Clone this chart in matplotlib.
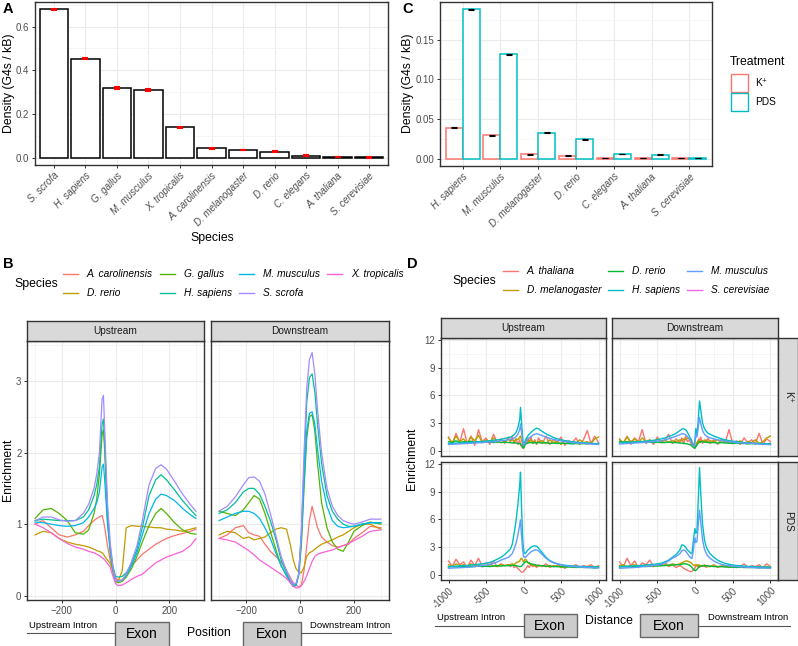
import numpy as np
import matplotlib.pyplot as plt
from matplotlib.patches import Rectangle
from matplotlib.lines import Line2D

plt.rcParams['font.family'] = ['Liberation Sans', 'DejaVu Sans']

W, H = 798, 646

# ---------------- panel A: G4 density per species
species_a = ['S. scrofa', 'H. sapiens', 'G. gallus', 'M. musculus', 'X. tropicalis',
             'A. carolinensis', 'D. melanogaster', 'D. rerio', 'C. elegans',
             'A. thaliana', 'S. cerevisiae']
density_a = [0.679, 0.454, 0.318, 0.310, 0.138, 0.042, 0.035, 0.026, 0.009, 0.003, 0.0005]
err_a = [0.004, 0.003, 0.004, 0.003, 0.003, 0.002, 0.002, 0.002, 0.002, 0.001, 0.001]

# ---------------- panel C: density by treatment
species_c = ['H. sapiens', 'M. musculus', 'D. melanogaster', 'D. rerio',
             'C. elegans', 'A. thaliana', 'S. cerevisiae']
density_k = [0.0388, 0.0293, 0.0054, 0.0038, 0.0009, 0.0008, 0.0002]
density_pds = [0.1885, 0.1314, 0.0326, 0.0243, 0.0054, 0.0050, 0.0002]
err_k = [0.0004, 0.0004, 0.0003, 0.0003, 0.0002, 0.0002, 0.0001]
err_pds = [0.0006, 0.0005, 0.0004, 0.0003, 0.0002, 0.0002, 0.0001]
treatments = ['K\u207a', 'PDS']
treat_colors = ['#F8766D', '#00BFC4']

# ---------------- panel B: enrichment around exons
species_b = ['A. carolinensis', 'D. rerio', 'G. gallus', 'H. sapiens',
             'M. musculus', 'S. scrofa', 'X. tropicalis']
colors_b = ['#F8766D', '#C49A00', '#53B400', '#00C094', '#00B6EB', '#A58AFF', '#FB61D7']

pos_up = [-300, -270, -240, -210, -180, -150, -120, -100, -80, -70, -60, -50, -45, -40,
          -30, -20, -10, 0, 10, 25, 40, 60, 80, 100, 125, 150, 170, 190, 220, 250, 280, 300]
up_acar = [1.0, 1.05, 0.95, 0.85, 0.82, 0.85, 0.9, 0.98, 1.05, 1.08, 1.1, 1.12, 1.05, 0.95,
           0.7, 0.5, 0.35, 0.25, 0.22, 0.22, 0.3, 0.42, 0.5, 0.58, 0.65, 0.72, 0.76, 0.8,
           0.84, 0.87, 0.9, 0.93]
up_drer = [0.85, 0.9, 0.88, 0.8, 0.75, 0.72, 0.7, 0.68, 0.65, 0.63, 0.62, 0.6, 0.58, 0.55,
           0.5, 0.45, 0.35, 0.22, 0.2, 0.35, 0.95, 0.98, 0.97, 0.97, 0.96, 0.95, 0.95, 0.93,
           0.92, 0.9, 0.93, 0.95]
up_ggal = [1.08, 1.2, 1.22, 1.15, 1.05, 0.88, 0.86, 0.92, 1.15, 1.35, 1.7, 2.25, 2.32, 2.0,
           1.1, 0.6, 0.35, 0.2, 0.18, 0.2, 0.26, 0.38, 0.55, 0.75, 0.98, 1.15, 1.22, 1.15,
           1.02, 0.92, 0.87, 0.86]
up_hsap = [1.05, 1.07, 1.06, 1.05, 1.05, 1.05, 1.1, 1.2, 1.4, 1.55, 1.8, 2.4, 2.47, 2.1,
           1.2, 0.7, 0.42, 0.27, 0.26, 0.27, 0.32, 0.45, 0.65, 0.95, 1.4, 1.62, 1.69, 1.62,
           1.48, 1.33, 1.2, 1.12]
up_mmus = [1.03, 1.02, 1.0, 0.98, 0.97, 0.98, 1.02, 1.1, 1.22, 1.3, 1.45, 1.8, 1.84, 1.6,
           1.0, 0.65, 0.38, 0.22, 0.2, 0.22, 0.28, 0.42, 0.6, 0.85, 1.15, 1.35, 1.42, 1.4,
           1.33, 1.22, 1.13, 1.08]
up_sscr = [1.05, 1.1, 1.1, 1.06, 1.04, 1.05, 1.15, 1.28, 1.5, 1.7, 2.0, 2.75, 2.8, 2.3,
           1.3, 0.75, 0.4, 0.22, 0.2, 0.22, 0.3, 0.48, 0.7, 1.05, 1.55, 1.78, 1.83, 1.77,
           1.6, 1.42, 1.27, 1.18]
up_xtro = [1.0, 0.95, 0.88, 0.8, 0.73, 0.68, 0.65, 0.62, 0.6, 0.58, 0.56, 0.53, 0.52, 0.5,
           0.45, 0.4, 0.28, 0.17, 0.14, 0.15, 0.18, 0.23, 0.27, 0.3, 0.38, 0.46, 0.5, 0.54,
           0.58, 0.62, 0.7, 0.8]

pos_dn = [-300, -270, -240, -210, -190, -170, -150, -130, -110, -90, -70, -50, -35, -25,
          -15, -5, 5, 15, 25, 35, 45, 55, 65, 80, 100, 120, 140, 160, 180, 200, 230, 260, 300]
dn_acar = [0.8, 0.85, 0.95, 0.98, 0.88, 0.85, 0.83, 0.72, 0.62, 0.55, 0.47, 0.35, 0.25, 0.18,
           0.15, 0.12, 0.15, 0.35, 0.7, 1.05, 1.25, 1.1, 0.95, 0.82, 0.75, 0.7, 0.68, 0.7,
           0.72, 0.8, 0.88, 0.97, 0.95]
dn_drer = [0.85, 0.9, 0.88, 0.8, 0.82, 0.78, 0.8, 0.82, 0.88, 0.93, 0.95, 0.93, 0.7, 0.5,
           0.38, 0.33, 0.32, 0.4, 0.55, 0.6, 0.62, 0.65, 0.68, 0.72, 0.75, 0.78, 0.82, 0.85,
           0.9, 0.95, 1.0, 1.0, 0.93]
dn_ggal = [1.18, 1.15, 1.12, 1.2, 1.3, 1.4, 1.35, 1.15, 0.9, 0.65, 0.42, 0.28, 0.18, 0.13,
           0.15, 0.28, 0.7, 1.5, 2.2, 2.5, 2.53, 2.3, 1.85, 1.3, 0.95, 0.75, 0.65, 0.62,
           0.75, 0.9, 0.98, 1.03, 1.0]
dn_hsap = [1.15, 1.2, 1.3, 1.45, 1.5, 1.5, 1.42, 1.25, 1.05, 0.8, 0.5, 0.32, 0.2, 0.15,
           0.15, 0.3, 0.85, 1.8, 2.7, 3.05, 3.1, 2.85, 2.4, 1.85, 1.4, 1.18, 1.07, 1.0,
           0.97, 0.97, 1.0, 1.02, 1.02]
dn_mmus = [1.05, 1.1, 1.15, 1.18, 1.18, 1.15, 1.08, 0.95, 0.8, 0.6, 0.42, 0.28, 0.18, 0.13,
           0.14, 0.3, 0.8, 1.6, 2.3, 2.55, 2.57, 2.4, 2.05, 1.6, 1.25, 1.05, 0.97, 0.95,
           0.96, 0.97, 1.0, 1.02, 1.02]
dn_sscr = [1.18, 1.25, 1.38, 1.55, 1.65, 1.66, 1.6, 1.42, 1.15, 0.85, 0.55, 0.35, 0.22, 0.17,
           0.17, 0.3, 0.9, 2.0, 2.9, 3.3, 3.4, 3.1, 2.6, 2.0, 1.5, 1.25, 1.12, 1.05,
           1.02, 1.0, 1.03, 1.07, 1.07]
dn_xtro = [0.8, 0.78, 0.75, 0.68, 0.63, 0.57, 0.5, 0.45, 0.4, 0.35, 0.3, 0.24, 0.18, 0.13,
           0.11, 0.11, 0.14, 0.2, 0.28, 0.38, 0.48, 0.55, 0.58, 0.6, 0.62, 0.64, 0.67, 0.7,
           0.73, 0.77, 0.83, 0.9, 0.92]

b_up = [up_acar, up_drer, up_ggal, up_hsap, up_mmus, up_sscr, up_xtro]
b_dn = [dn_acar, dn_drer, dn_ggal, dn_hsap, dn_mmus, dn_sscr, dn_xtro]

# ---------------- panel D: enrichment by treatment
species_d = ['A. thaliana', 'D. melanogaster', 'D. rerio', 'H. sapiens',
             'M. musculus', 'S. cerevisiae']
colors_d = ['#F8766D', '#B79F00', '#00BA38', '#00BFC4', '#619CFF', '#F564E3']

pos_d = [-1000, -950, -900, -850, -800, -750, -700, -650, -600, -550, -500, -450, -400,
         -350, -300, -250, -200,
         -175, -150, -125, -100, -75, -50, -40, -25, -10, 0, 10, 25, 40, 50, 60, 75, 100,
         125, 150, 175, 200,
         250, 300, 350, 400, 450, 500, 550, 600, 650, 700, 750, 800, 850, 900, 950, 1000]

# K+ upstream
ku_atha = [1.5, 0.7, 1.9, 0.9, 2.4, 0.8, 1.6, 0.6, 2.3, 1.0, 1.4, 0.7, 1.8, 0.9, 1.3, 0.8, 1.5,
           0.9, 1.6, 0.8, 1.3, 0.7, 1.2, 0.6, 0.5, 0.3, 0.4, 0.6, 0.9, 1.3, 0.8, 1.4, 0.9, 1.5,
           0.8, 1.2, 0.7, 1.4,
           0.8, 1.6, 0.7, 1.2, 0.9, 1.5, 0.6, 1.1, 0.9, 1.4, 0.7, 1.2, 2.2, 0.8, 1.6, 0.9]
ku_dmel = [1.4, 0.9, 1.6, 1.0, 1.3, 0.8, 1.5, 1.1, 1.7, 0.9, 1.2, 1.0, 1.4, 0.9, 1.2, 1.0, 1.3,
           1.1, 1.2, 1.0, 1.3, 1.2, 1.5, 1.6, 1.2, 0.5, 0.3, 0.6, 1.0, 1.2, 1.1, 1.3, 1.0, 1.2,
           0.9, 1.1, 0.8, 1.0,
           1.1, 0.8, 1.2, 0.9, 1.0, 0.7, 1.1, 0.9, 1.0, 0.8, 1.2, 0.9, 1.0, 0.8, 1.3, 1.5]
ku_drer = [1.0, 0.9, 1.1, 0.9, 1.0, 0.95, 1.05, 0.9, 1.0, 0.9, 1.0, 0.95, 0.9, 1.0, 0.9, 0.95,
           0.9,
           0.9, 0.85, 0.9, 0.85, 0.8, 0.8, 0.75, 0.6, 0.4, 0.3, 0.5, 0.7, 0.8, 0.85, 0.85, 0.9,
           0.9, 0.85, 0.9, 0.85, 0.9,
           0.85, 0.9, 0.8, 0.85, 0.8, 0.85, 0.8, 0.8, 0.75, 0.8, 0.75, 0.8, 0.75, 0.8, 0.75, 0.8]
ku_hsap = [0.8, 0.82, 0.85, 0.85, 0.88, 0.9, 0.92, 0.95, 1.0, 1.02, 1.05, 1.1, 1.15, 1.2, 1.25,
           1.35, 1.45,
           1.5, 1.6, 1.75, 2.0, 2.5, 3.4, 4.7, 3.0, 1.3, 0.6, 0.8, 1.1, 1.4, 1.5, 1.65, 1.8,
           2.0, 2.2, 2.35, 2.45, 2.4,
           2.1, 1.85, 1.65, 1.45, 1.3, 1.2, 1.12, 1.05, 1.0, 0.95, 0.9, 0.87, 0.85, 0.82, 0.8,
           0.78]
ku_mmus = [0.7, 0.72, 0.74, 0.75, 0.78, 0.8, 0.82, 0.85, 0.88, 0.9, 0.93, 0.97, 1.0, 1.05, 1.1,
           1.15, 1.2,
           1.25, 1.3, 1.4, 1.55, 1.8, 2.3, 2.9, 2.0, 1.0, 0.6, 0.7, 0.9, 1.1, 1.2, 1.3, 1.4,
           1.55, 1.7, 1.8, 1.85, 1.8,
           1.65, 1.5, 1.35, 1.25, 1.15, 1.08, 1.0, 0.95, 0.9, 0.85, 0.82, 0.8, 0.78, 0.75, 0.72,
           0.7]

# K+ downstream
kd_atha = [1.3, 0.8, 1.6, 0.7, 1.4, 1.0, 2.3, 0.8, 1.2, 0.7, 1.5, 0.9, 1.1, 1.8, 0.8, 1.3, 0.9,
           1.4, 0.8, 1.6, 1.0, 1.2, 0.7, 0.9, 0.5, 0.4, 0.3, 0.5, 0.8, 1.0, 1.3, 0.9, 1.5, 0.8,
           1.2, 0.9, 1.4, 0.8,
           1.2, 0.7, 1.3, 0.9, 2.3, 0.8, 1.1, 0.7, 1.4, 0.9, 1.2, 0.8, 1.9, 0.7, 1.3, 1.0]
kd_dmel = [1.2, 0.9, 1.5, 1.0, 1.3, 0.9, 1.4, 1.0, 1.2, 0.9, 1.3, 1.0, 1.2, 0.9, 1.1, 1.0, 1.2,
           1.1, 1.3, 1.2, 1.4, 1.3, 1.2, 1.0, 0.8, 0.5, 0.4, 0.6, 0.9, 1.1, 1.0, 1.2, 0.9, 1.1,
           1.0, 1.2, 0.9, 1.1,
           1.0, 1.2, 0.9, 1.1, 0.8, 1.0, 0.9, 1.1, 0.8, 1.0, 0.9, 1.2, 0.8, 1.0, 1.4, 1.6]
kd_drer = [1.0, 0.95, 1.0, 0.9, 1.0, 0.95, 1.0, 0.9, 0.95, 0.9, 0.95, 0.9, 0.9, 0.95, 0.9, 0.9,
           0.85,
           0.85, 0.8, 0.8, 0.75, 0.7, 0.6, 0.5, 0.4, 0.3, 0.3, 0.45, 0.6, 0.8, 0.9, 0.95, 1.0,
           1.0, 0.95, 0.95, 0.9, 0.9,
           0.9, 0.85, 0.9, 0.85, 0.85, 0.8, 0.85, 0.8, 0.8, 0.75, 0.8, 0.75, 0.8, 0.75, 0.75, 0.8]
kd_hsap = [0.85, 0.87, 0.9, 0.92, 0.95, 1.0, 1.02, 1.05, 1.1, 1.15, 1.2, 1.3, 1.4, 1.55, 1.7,
           1.9, 2.2,
           2.35, 2.4, 2.3, 2.0, 1.6, 1.2, 0.9, 0.6, 0.5, 1.2, 2.4, 1.8, 3.0, 4.2, 5.4, 4.5,
           3.0, 2.4, 2.1, 1.9, 1.8,
           1.6, 1.45, 1.3, 1.2, 1.12, 1.05, 1.0, 0.95, 0.9, 0.87, 0.85, 0.82, 0.8, 0.78, 0.75,
           0.72]
kd_mmus = [0.75, 0.77, 0.8, 0.82, 0.85, 0.88, 0.9, 0.93, 0.97, 1.0, 1.05, 1.1, 1.2, 1.3, 1.45,
           1.6, 1.75,
           1.85, 1.85, 1.75, 1.55, 1.3, 1.0, 0.8, 0.6, 0.5, 0.9, 1.8, 1.5, 2.3, 3.0, 3.6, 3.0,
           2.2, 1.8, 1.6, 1.5, 1.4,
           1.3, 1.2, 1.12, 1.05, 1.0, 0.95, 0.9, 0.87, 0.85, 0.82, 0.8, 0.78, 0.75, 0.72, 0.7,
           0.68]

# PDS upstream
pu_atha = [1.5, 0.9, 1.7, 1.1, 1.4, 0.8, 1.6, 1.0, 1.8, 0.9, 1.3, 1.1, 1.5, 0.9, 1.2, 1.0, 1.1,
           0.9, 1.1, 0.8, 0.9, 0.7, 0.5, 0.4, 0.3, 0.3, 0.35, 0.5, 0.6, 0.8, 0.9, 1.0, 0.8,
           1.1, 0.9, 1.0, 0.8, 1.1,
           0.9, 1.2, 0.8, 1.0, 0.9, 1.1, 0.7, 1.0, 0.9, 1.1, 0.8, 1.0, 0.9, 1.1, 0.8, 1.0]
pu_dmel = [1.1, 0.9, 1.2, 1.0, 1.1, 0.9, 1.2, 1.0, 1.1, 0.9, 1.0, 1.1, 1.0, 0.9, 1.1, 1.0, 1.1,
           1.1, 1.2, 1.1, 1.3, 1.4, 1.5, 1.7, 1.8, 1.6, 1.4, 1.5, 1.7, 1.6, 1.4, 1.3, 1.2, 1.1,
           1.0, 1.1, 0.9, 1.0,
           1.0, 0.9, 1.0, 0.9, 1.0, 0.8, 0.9, 1.0, 0.8, 0.9, 0.8, 0.9, 0.8, 0.9, 0.8, 0.9]
pu_drer = [0.85, 0.9, 0.85, 0.9, 0.9, 0.85, 0.9, 0.9, 0.95, 0.9, 0.95, 0.9, 0.95, 1.0, 0.95,
           1.0, 1.0,
           1.0, 1.05, 1.0, 1.0, 0.95, 0.9, 0.9, 0.95, 1.1, 1.2, 1.3, 1.4, 1.45, 1.4, 1.35, 1.3,
           1.2, 1.15, 1.1, 1.05, 1.0,
           1.0, 0.95, 0.95, 0.9, 0.9, 0.9, 0.85, 0.85, 0.85, 0.8, 0.85, 0.8, 0.8, 0.8, 0.75, 0.8]
pu_hsap = [0.9, 0.92, 0.95, 0.97, 1.0, 1.02, 1.05, 1.1, 1.15, 1.2, 1.26, 1.35, 1.5, 1.7, 1.9,
           2.2, 2.6,
           2.8, 3.3, 4.5, 5.8, 7.6, 9.8, 11.1, 7.0, 3.8, 2.8, 2.4, 2.3, 2.5, 2.6, 2.7, 2.8,
           3.0, 3.1, 3.15, 3.1, 2.9,
           2.4, 1.9, 1.55, 1.35, 1.2, 1.1, 1.05, 1.0, 0.97, 0.95, 0.92, 0.9, 0.88, 0.87, 0.86,
           0.85]
pu_mmus = [0.72, 0.74, 0.76, 0.78, 0.8, 0.83, 0.86, 0.9, 0.95, 1.0, 1.05, 1.12, 1.25, 1.4, 1.6,
           1.75, 1.9,
           2.1, 2.3, 2.8, 3.4, 4.3, 5.4, 5.95, 4.1, 2.6, 2.0, 1.9, 1.9, 2.0, 2.1, 2.2, 2.3,
           2.5, 2.6, 2.7, 2.7, 2.6,
           2.2, 1.8, 1.5, 1.3, 1.2, 1.1, 1.0, 0.95, 0.9, 0.87, 0.85, 0.82, 0.8, 0.78, 0.76, 0.75]

# PDS downstream
pd_atha = [1.4, 0.9, 1.8, 1.0, 1.5, 0.8, 1.3, 1.1, 1.6, 0.9, 1.2, 1.0, 1.4, 0.9, 1.1, 0.8, 1.0,
           0.9, 0.7, 0.6, 0.5, 0.4, 0.35, 0.4, 0.5, 0.6, 0.8, 0.9, 1.0, 0.9, 1.1, 0.8, 1.0,
           0.9, 1.1, 0.8, 1.0, 0.9,
           1.1, 0.8, 1.0, 0.9, 1.1, 0.8, 1.0, 0.9, 1.2, 0.8, 1.0, 0.9, 1.1, 0.8, 1.2, 0.9]
pd_dmel = [1.0, 1.1, 0.9, 1.0, 1.1, 0.9, 1.0, 1.1, 1.0, 0.9, 1.1, 1.0, 1.1, 1.0, 1.2, 1.1, 1.2,
           1.3, 1.4, 1.5, 1.5, 1.4, 1.3, 1.2, 1.1, 1.0, 1.1, 1.0, 1.1, 1.0, 1.1, 0.9, 1.0,
           1.0, 0.9, 1.0, 0.9, 0.9,
           1.0, 0.9, 0.9, 1.0, 0.8, 0.9, 0.9, 0.8, 0.9, 0.8, 0.9, 0.8, 0.9, 0.8, 0.9, 0.8]
pd_drer = [0.85, 0.9, 0.85, 0.9, 0.9, 0.9, 0.95, 0.9, 0.95, 1.0, 0.95, 1.0, 1.0, 1.05, 1.05,
           1.1, 1.1,
           1.15, 1.2, 1.2, 1.15, 1.05, 0.9, 0.8, 0.65, 0.5, 0.45, 0.5, 0.6, 0.75, 0.85, 0.9,
           0.95, 1.0, 1.0, 1.0, 0.95, 0.95,
           0.9, 0.9, 0.9, 0.85, 0.85, 0.85, 0.8, 0.85, 0.8, 0.8, 0.8, 0.8, 0.75, 0.8, 0.75, 0.8]
pd_hsap = [0.9, 0.92, 0.94, 0.96, 0.98, 1.0, 1.03, 1.06, 1.1, 1.15, 1.2, 1.26, 1.4, 1.6, 1.9,
           2.2, 2.7,
           3.25, 3.2, 3.0, 2.7, 2.5, 2.3, 2.4, 3.4, 4.5, 5.0, 4.5, 4.6, 7.4, 9.5, 11.6, 9.0,
           5.5, 3.8, 3.0, 2.6, 2.3,
           1.9, 1.6, 1.4, 1.25, 1.15, 1.08, 1.02, 0.98, 0.95, 0.92, 0.9, 0.88, 0.87, 0.86, 0.85,
           0.85]
pd_mmus = [0.72, 0.74, 0.76, 0.78, 0.8, 0.84, 0.88, 0.92, 0.97, 1.03, 1.08, 1.12, 1.3, 1.5, 1.8,
           2.0, 2.3,
           2.6, 2.7, 2.6, 2.3, 2.0, 1.8, 1.8, 2.5, 3.5, 4.0, 3.5, 3.6, 5.0, 6.2, 7.0, 5.8,
           3.8, 2.8, 2.3, 2.0, 1.8,
           1.5, 1.3, 1.15, 1.05, 1.0, 0.95, 0.9, 0.87, 0.85, 0.82, 0.8, 0.78, 0.76, 0.75, 0.74,
           0.72]

d_ku = [ku_atha, ku_dmel, ku_drer, ku_hsap, ku_mmus]
d_kd = [kd_atha, kd_dmel, kd_drer, kd_hsap, kd_mmus]
d_pu = [pu_atha, pu_dmel, pu_drer, pu_hsap, pu_mmus]
d_pd = [pd_atha, pd_dmel, pd_drer, pd_hsap, pd_mmus]


def box(x0, y0, x1, y1):
    return [x0 / W, 1 - y1 / H, (x1 - x0) / W, (y1 - y0) / H]


def ftext(x, y, s, **kw):
    fig.text(x / W, 1 - y / H, s, **kw)


def fline(x0, x1, y, color='#555555', lw=0.8):
    fig.add_artist(Line2D([x0 / W, x1 / W], [1 - y / H, 1 - y / H],
                          transform=fig.transFigure, color=color, lw=lw))


def frect(x0, y0, x1, y1, fc, ec, lw=0.8):
    fig.add_artist(Rectangle((x0 / W, 1 - y1 / H), (x1 - x0) / W, (y1 - y0) / H,
                             transform=fig.transFigure, facecolor=fc, edgecolor=ec, lw=lw))


def theme(ax):
    for s in ax.spines.values():
        s.set_color('#333333')
        s.set_linewidth(1.0)
    ax.tick_params(which='major', length=2.5, width=0.7, color='#333333',
                   labelsize=7, labelcolor='#4D4D4D', pad=1.5)
    ax.tick_params(which='minor', length=0)
    ax.grid(which='major', color='#EBEBEB', lw=0.8)
    ax.grid(which='minor', color='#F2F2F2', lw=0.5)
    ax.set_axisbelow(True)


def strip(rect, label, rot=0):
    s = fig.add_axes(rect)
    s.set_facecolor('#D9D9D9')
    s.set_xticks([])
    s.set_yticks([])
    for sp in s.spines.values():
        sp.set_color('#333333')
        sp.set_linewidth(1.0)
    s.text(0.5, 0.5, label, ha='center', va='center', fontsize=7.3,
           color='#1A1A1A', rotation=rot, transform=s.transAxes)


fig = plt.figure(figsize=(W / 100, H / 100), dpi=100)

# ================= A
axA = fig.add_axes(box(35, 2, 388, 165))
xa = np.arange(len(species_a))
axA.bar(xa, density_a, width=0.9, facecolor='white', edgecolor='black', lw=1.1, zorder=2)
axA.errorbar(xa, density_a, yerr=err_a, fmt='none', ecolor='red', elinewidth=1.5,
             capsize=2.5, capthick=1.5, zorder=3)
axA.set_xlim(-0.6, len(species_a) - 0.4)
axA.set_ylim(-0.034, 0.713)
axA.set_yticks([0, 0.2, 0.4, 0.6])
axA.set_yticklabels(['0.0', '0.2', '0.4', '0.6'])
axA.set_yticks([0.1, 0.3, 0.5, 0.7], minor=True)
axA.set_xticks(xa)
axA.set_xticklabels(species_a, rotation=45, ha='right', rotation_mode='anchor',
                    fontstyle='italic')
theme(axA)
ftext(9, 83, 'Density (G4s / kB)', rotation=90, ha='center', va='center', fontsize=8.8)
ftext(212, 238, 'Species', ha='center', va='center', fontsize=8.8)
ftext(3, 9, 'A', ha='left', va='center', fontsize=10.5, fontweight='bold')

# ================= C
axC = fig.add_axes(box(440, 2, 712, 166))
xc = np.arange(len(species_c))
for vals, errs, col, off in [(density_k, err_k, treat_colors[0], -0.225),
                             (density_pds, err_pds, treat_colors[1], 0.225)]:
    axC.bar(xc + off, vals, width=0.45, facecolor='white', edgecolor=col, lw=1.1, zorder=2)
    axC.errorbar(xc + off, vals, yerr=errs, fmt='none', ecolor='black', elinewidth=0.8,
                 capsize=2.5, capthick=0.8, zorder=3)
axC.set_xlim(-0.6, len(species_c) - 0.4)
axC.set_ylim(-0.0094, 0.1975)
axC.set_yticks([0, 0.05, 0.10, 0.15])
axC.set_yticklabels(['0.00', '0.05', '0.10', '0.15'])
axC.set_yticks([0.025, 0.075, 0.125, 0.175], minor=True)
axC.set_xticks(xc)
axC.set_xticklabels(species_c, rotation=45, ha='right', rotation_mode='anchor',
                    fontstyle='italic')
theme(axC)
ftext(408, 83, 'Density (G4s / kB)', rotation=90, ha='center', va='center', fontsize=8.8)
ftext(402, 9, 'C', ha='left', va='center', fontsize=10.5, fontweight='bold')
ftext(730, 62, 'Treatment', ha='left', va='center', fontsize=8.8)
for i, (lab, col) in enumerate(zip(treatments, treat_colors)):
    y0 = 74 + i * 19
    frect(731, y0, 748, y0 + 18, 'white', col, lw=1.0)
    ftext(755, y0 + 9, lab, ha='left', va='center', fontsize=7.3)

# ================= B
ftext(3, 264, 'B', ha='left', va='center', fontsize=10.5, fontweight='bold')
ftext(14, 284, 'Species', ha='left', va='center', fontsize=8.8)
leg_b_keys = [63, 160, 239, 327]
for i, (sp, col) in enumerate(zip(species_b, colors_b)):
    c, r = divmod(i, 2)
    y = 274 + r * 19
    fline(leg_b_keys[c], leg_b_keys[c] + 15, y, color=col, lw=1.0)
    ftext(leg_b_keys[c] + 24, y, sp, ha='left', va='center', fontsize=7.3, fontstyle='italic')

b_axes = []
for (x0, x1), pos, curves, title in [((27, 204), pos_up, b_up, 'Upstream'),
                                     ((211, 389), pos_dn, b_dn, 'Downstream')]:
    ax = fig.add_axes(box(x0, 341, x1, 600))
    for vals, col in zip(curves, colors_b):
        ax.plot(pos, vals, color=col, lw=0.9)
    ax.set_xlim(-330, 330)
    ax.set_ylim(-0.06, 3.56)
    ax.set_xticks([-200, 0, 200])
    ax.set_xticks([-300, -100, 100, 300], minor=True)
    ax.set_yticks([0, 1, 2, 3])
    ax.set_yticks([0.5, 1.5, 2.5, 3.5], minor=True)
    theme(ax)
    strip(box(x0, 321, x1, 341), title)
    b_axes.append(ax)
b_axes[1].tick_params(axis='y', which='both', left=False, labelleft=False)
ftext(8, 470, 'Enrichment', rotation=90, ha='center', va='center', fontsize=8.8)

# exon diagram under B
ftext(29, 626, 'Upstream Intron', ha='left', va='center', fontsize=6.8)
fline(27, 115, 633)
frect(115, 622, 169, 648, '#CCCCCC', '#666666', lw=1.0)
ftext(142, 634, 'Exon', ha='center', va='center', fontsize=10)
ftext(209, 633, 'Position', ha='center', va='center', fontsize=8.8)
frect(243, 622, 301, 648, '#CCCCCC', '#666666', lw=1.0)
ftext(272, 634, 'Exon', ha='center', va='center', fontsize=10)
fline(301, 391, 633)
ftext(390, 626, 'Downstream Intron', ha='right', va='center', fontsize=6.8)

# ================= D
ftext(407, 264, 'D', ha='left', va='center', fontsize=10.5, fontweight='bold')
ftext(452, 281, 'Species', ha='left', va='center', fontsize=8.8)
leg_d_keys = [503, 608, 687]
for i, (sp, col) in enumerate(zip(species_d, colors_d)):
    c, r = divmod(i, 2)
    y = 271 + r * 19
    fline(leg_d_keys[c], leg_d_keys[c] + 15, y, color=col, lw=1.0)
    ftext(leg_d_keys[c] + 24, y, sp, ha='left', va='center', fontsize=7.3, fontstyle='italic')

d_layout = [((441, 606), (338, 456), d_ku, 0, 0),
            ((612, 778), (338, 456), d_kd, 0, 1),
            ((441, 606), (462, 580), d_pu, 1, 0),
            ((612, 778), (462, 580), d_pd, 1, 1)]
for (x0, x1), (y0, y1), curves, row, col in d_layout:
    ax = fig.add_axes(box(x0, y0, x1, y1))
    for vals, c in zip(curves, colors_d):
        ax.plot(pos_d, vals, color=c, lw=1.0)
    ax.set_xlim(-1100, 1100)
    ax.set_ylim(-0.55, 12.2)
    ax.set_xticks([-1000, -500, 0, 500, 1000])
    ax.set_xticks([-750, -250, 250, 750], minor=True)
    ax.set_yticks([0, 3, 6, 9, 12])
    ax.set_yticks([1.5, 4.5, 7.5, 10.5], minor=True)
    theme(ax)
    if row == 1:
        ax.set_xticklabels(['-1000', '-500', '0', '500', '1000'], rotation=45, ha='right',
                           rotation_mode='anchor')
    else:
        ax.tick_params(axis='x', which='both', bottom=False, labelbottom=False)
    if col == 1:
        ax.tick_params(axis='y', which='both', left=False, labelleft=False)
    if row == 0:
        strip(box(x0, 318, x1, 338), 'Upstream' if col == 0 else 'Downstream')
    if col == 1:
        strip(box(778, y0, 798, y1), treatments[row], rot=-90)
ftext(412, 459, 'Enrichment', rotation=90, ha='center', va='center', fontsize=8.8)

# exon diagram under D
ftext(437, 618, 'Upstream Intron', ha='left', va='center', fontsize=6.8)
fline(435, 524, 626)
frect(524, 614, 577, 637, '#CCCCCC', '#666666', lw=1.0)
ftext(550, 626, 'Exon', ha='center', va='center', fontsize=10)
ftext(609, 621, 'Distance', ha='center', va='center', fontsize=8.8)
frect(640, 614, 698, 637, '#CCCCCC', '#666666', lw=1.0)
ftext(669, 626, 'Exon', ha='center', va='center', fontsize=10)
fline(698, 790, 626)
ftext(788, 618, 'Downstream Intron', ha='right', va='center', fontsize=6.8)

fig.savefig('out.png', dpi=100)
